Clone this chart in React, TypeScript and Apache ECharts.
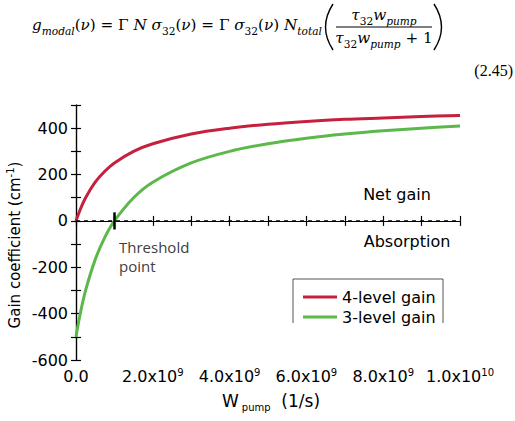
import React, { useEffect, useRef } from 'react';
import * as echarts from 'echarts';

// Pump rate (1/s) sample points
const wPump = [0, 0.1e9, 0.25e9, 0.5e9, 0.75e9, 1e9, 1.5e9, 2e9, 3e9, 4e9, 5e9, 6e9, 7e9, 8e9, 9e9, 10e9];
// Gain coefficient (cm^-1)
const fourLevelGain = [0, 45, 100, 167, 214, 250, 300, 333, 375, 400, 417, 429, 438, 444, 450, 455];
const threeLevelGain = [-500, -409, -300, -167, -71, 0, 100, 167, 250, 300, 333, 357, 375, 389, 400, 409];
const seriesNames = ['4-level gain', '3-level gain'];
const thresholdW = 1e9;
const thresholdHalf = 37;

const RED = '#c5203e';
const GREEN = '#5cb84a';
const SANS = 'DejaVu Sans';
const SERIF = 'DejaVu Serif';

const eqRich = {
  n: { fontFamily: SERIF, fontSize: 15.2, lineHeight: 23, verticalAlign: 'middle', fill: '#000' },
  i: { fontFamily: SERIF, fontSize: 15.2, lineHeight: 23, fontStyle: 'italic', verticalAlign: 'middle', fill: '#000' },
  s: { fontFamily: SERIF, fontSize: 10.6, lineHeight: 12, fontStyle: 'italic', verticalAlign: 'bottom', fill: '#000' },
  sn: { fontFamily: SERIF, fontSize: 10.6, lineHeight: 12, verticalAlign: 'bottom', fill: '#000' },
};

const eqMain = '{i|g}{s|modal}{n|(}{i|ν}{n|) = Γ }{i|N σ}{sn|32}{n|(}{i|ν}{n|) = Γ }{i|σ}{sn|32}{n|(}{i|ν}{n|) }{i|N}{s|total}';
const eqNum = '{i|τ}{sn|32}{i|w}{s|pump}';
const eqDen = '{i|τ}{sn|32}{i|w}{s|pump}{n| + 1}';

function xLabel(v: number): string {
  if (v === 0) return '{n|0.0}';
  if (Math.round(v / 1e9) % 2 !== 0) return '';
  const e = Math.floor(Math.log10(v) + 1e-9);
  const m = v / Math.pow(10, e);
  return `{n|${m.toFixed(1)}x10}{sup|${e}}`;
}

export default function App() {
  const ref = useRef<HTMLDivElement>(null);
  useEffect(() => {
    if (!ref.current) return;
    const chart = echarts.init(ref.current, null, { renderer: 'svg' });
    const axisLine = { show: true, lineStyle: { color: '#000', width: 1.2 } };
    const axisTick = { show: true, inside: true, length: 5, lineStyle: { color: '#000', width: 1.2 } };
    const option: any = {
      animation: false,
      grid: { left: 76, right: 55, top: 105, bottom: 61, containLabel: false },
      legend: {
        data: seriesNames,
        orient: 'vertical',
        left: 298,
        top: 284,
        itemWidth: 34,
        itemHeight: 3,
        itemGap: 4,
        icon: 'rect',
        textStyle: { fontFamily: SANS, fontSize: 16, color: '#000' },
      },
      xAxis: [
        {
          type: 'value', min: 0, max: 1e10, interval: 1e9, position: 'bottom',
          axisLine, axisTick, splitLine: { show: false },
          axisLabel: {
            margin: 7, formatter: xLabel,
            rich: {
              n: { fontFamily: SANS, fontSize: 16, lineHeight: 18, verticalAlign: 'middle', color: '#000' },
              sup: { fontFamily: SANS, fontSize: 10, lineHeight: 10, verticalAlign: 'top', color: '#000' },
            },
          },
          name: 'W{s|pump}  (1/s)',
          nameLocation: 'middle',
          nameGap: 30,
          nameTextStyle: {
            rich: {
              n: { fontFamily: SANS, fontSize: 17, lineHeight: 22, verticalAlign: 'middle', color: '#000' },
              s: { fontFamily: SANS, fontSize: 10, lineHeight: 10, verticalAlign: 'bottom', color: '#000', padding: [0, 0, 0, 3] },
            },
            fontFamily: SANS, fontSize: 17, color: '#000', lineHeight: 22, padding: [0, 0, 0, 6],
          },
        },
        {
          type: 'value', min: 0, max: 1e10, interval: 1e9, position: 'top',
          axisLine, axisTick, splitLine: { show: false }, axisLabel: { show: false },
        },
      ],
      yAxis: [
        {
          type: 'value', min: -600, max: 500, interval: 100, position: 'left',
          axisLine, axisTick, splitLine: { show: false },
          axisLabel: {
            margin: 8, fontFamily: SANS, fontSize: 16, color: '#000',
            formatter: (v: number) => (v % 200 === 0 && v < 500 ? String(v) : ''),
          },
        },
        {
          type: 'value', min: -600, max: 500, interval: 100, position: 'right',
          axisLine, axisTick, splitLine: { show: false }, axisLabel: { show: false },
        },
      ],
      series: [
        {
          type: 'line', name: seriesNames[0],
          data: wPump.map((w, i) => [w, fourLevelGain[i]]),
          smooth: 0.35, symbol: 'none',
          lineStyle: { color: RED, width: 3 }, itemStyle: { color: RED },
          markLine: {
            silent: true, symbol: ['none', 'none'], label: { show: false },
            lineStyle: { color: '#000', type: [4, 4], width: 1.5 },
            data: [{ yAxis: 0 }],
          },
        },
        {
          type: 'line', name: seriesNames[1],
          data: wPump.map((w, i) => [w, threeLevelGain[i]]),
          smooth: 0.35, symbol: 'none',
          lineStyle: { color: GREEN, width: 3 }, itemStyle: { color: GREEN },
          markLine: {
            silent: true, symbol: ['none', 'none'], label: { show: false },
            lineStyle: { color: '#000', type: 'solid', width: 2.5 },
            data: [[{ coord: [thresholdW, thresholdHalf] }, { coord: [thresholdW, -thresholdHalf] }]],
          },
        },
      ],
      graphic: [
        {
          type: 'text', x: 15, y: 245, rotation: Math.PI / 2,
          style: {
            text: 'Gain coefficient (cm{sup|-1})', align: 'center', verticalAlign: 'middle',
            rich: {
              sup: { fontFamily: SANS, fontSize: 10, lineHeight: 10, verticalAlign: 'top', fill: '#000' },
            },
            fontFamily: SANS, fontSize: 15, lineHeight: 19, fill: '#000',
          },
        },
        { type: 'text', x: 32, y: 25, style: { text: eqMain, rich: eqRich, verticalAlign: 'middle', align: 'left' } },
        { type: 'bezierCurve', shape: { x1: 333, y1: 4, cpx1: 318, cpy1: 27, x2: 333, y2: 50 }, style: { stroke: '#000', lineWidth: 1.4, fill: 'none' } },
        { type: 'bezierCurve', shape: { x1: 434, y1: 4, cpx1: 449, cpy1: 27, x2: 434, y2: 50 }, style: { stroke: '#000', lineWidth: 1.4, fill: 'none' } },
        { type: 'text', x: 384, y: 15, style: { text: eqNum, rich: eqRich, verticalAlign: 'middle', align: 'center' } },
        { type: 'line', shape: { x1: 336, y1: 27, x2: 432, y2: 27 }, style: { stroke: '#000', lineWidth: 1 } },
        { type: 'text', x: 384, y: 38, style: { text: eqDen, rich: eqRich, verticalAlign: 'middle', align: 'center' } },
        { type: 'text', x: 513, y: 70, style: { text: '(2.45)', fontFamily: 'Liberation Serif', fontSize: 16, fill: '#000', align: 'right', verticalAlign: 'middle' } },
        { type: 'text', x: 397, y: 194, style: { text: 'Net gain', fontFamily: SANS, fontSize: 16, fill: '#000', align: 'center', verticalAlign: 'middle' } },
        { type: 'text', x: 407, y: 241, style: { text: 'Absorption', fontFamily: SANS, fontSize: 16, fill: '#000', align: 'center', verticalAlign: 'middle' } },
        { type: 'text', x: 119, y: 256, style: { text: 'Threshold\npoint', fontFamily: 'Open Sans', fontSize: 15, lineHeight: 19, fill: '#404040', align: 'left', verticalAlign: 'middle' } },
        { type: 'polyline', shape: { points: [[293, 323], [293, 279], [443, 279], [443, 323]] }, style: { stroke: '#555', lineWidth: 1, fill: 'none' } },
      ],
    };
    chart.setOption(option);
    return () => chart.dispose();
  }, []);
  return <div ref={ref} style={{ position: 'fixed', left: 0, top: 0, width: 515, height: 421, background: '#fff' }} />;
}
